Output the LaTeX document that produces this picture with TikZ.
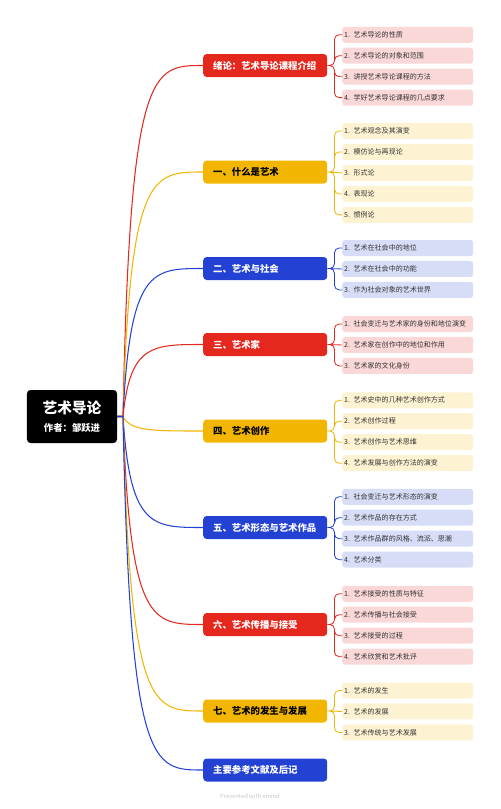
\documentclass[tikz,border=0pt]{standalone}
\usepackage{fontspec}
\setmainfont{Noto Sans CJK SC}
\usetikzlibrary{positioning}
\definecolor{rojo}{HTML}{E5281E}
\definecolor{amarillo}{HTML}{F2B600}
\definecolor{azul}{HTML}{2342D4}
\definecolor{texto}{HTML}{333333}

\begin{document}
\begin{tikzpicture}[x=0.03cm, y=-0.03cm,
    raiz/.style={fill=black, text=white, rounded corners=3pt,
                 minimum width=2.7cm, minimum height=1.59cm, align=center},
    tema/.style={fill=#1, text=white, rounded corners=3pt, anchor=west,
                 text width=3.12cm, inner xsep=0.3cm, inner ysep=0pt,
                 minimum height=0.69cm, align=left,
                 font=\fontsize{8}{9}\selectfont\bfseries},
    subtema/.style={fill=#1!18, text=texto, rounded corners=2.5pt,
                 text width=3.81cm, inner xsep=0.06cm, inner ysep=0pt,
                 minimum height=0.48cm, align=left,
                 font=\fontsize{6}{7}\selectfont},
    rama/.style={draw=#1, line width=0.9pt},
    brazo/.style={draw=#1, line width=0.7pt, rounded corners=4pt}]
  \useasboundingbox (0,0) rectangle (500,809);
  \node[raiz] (raiz) at (72,416.5) {{\fontsize{12.5}{15}\selectfont\bfseries 艺术导论}\\[3pt]
    {\fontsize{8}{10}\selectfont\bfseries 作者：邹跃进}};
  % temas
  \node[tema=rojo] (t1) at (203,65.5) {绪论：艺术导论课程介绍};
  \node[tema=amarillo, text=black] (t2) at (203,172) {一、什么是艺术};
  \node[tema=azul] (t3) at (203,268.5) {二、艺术与社会};
  \node[tema=rojo] (t4) at (203,344.5) {三、艺术家};
  \node[tema=amarillo, text=black] (t5) at (203,431) {四、艺术创作};
  \node[tema=azul] (t6) at (203,527.5) {五、艺术形态与艺术作品};
  \node[tema=rojo] (t7) at (203,624.5) {六、艺术传播与接受};
  \node[tema=amarillo, text=black] (t8) at (203,711) {七、艺术的发生与发展};
  \node[tema=azul] (t9) at (203,770) {主要参考文献及后记};
  % subtemas
  \node[subtema=rojo, anchor=west] (s1a) at (342,34.75) {1. 艺术导论的性质};
  \node[subtema=rojo, below=0.135cm of s1a] (s1b) {2. 艺术导论的对象和范围};
  \node[subtema=rojo, below=0.135cm of s1b] (s1c) {3. 讲授艺术导论课程的方法};
  \node[subtema=rojo, below=0.135cm of s1c] (s1d) {4. 学好艺术导论课程的几点要求};
  \node[subtema=amarillo, anchor=west] (s2a) at (342,131) {1. 艺术观念及其演变};
  \node[subtema=amarillo, below=0.135cm of s2a] (s2b) {2. 模仿论与再现论};
  \node[subtema=amarillo, below=0.135cm of s2b] (s2c) {3. 形式论};
  \node[subtema=amarillo, below=0.135cm of s2c] (s2d) {4. 表现论};
  \node[subtema=amarillo, below=0.135cm of s2d] (s2e) {5. 惯例论};
  \node[subtema=azul, anchor=west] (s3a) at (342,248) {1. 艺术在社会中的地位};
  \node[subtema=azul, below=0.135cm of s3a] (s3b) {2. 艺术在社会中的功能};
  \node[subtema=azul, below=0.135cm of s3b] (s3c) {3. 作为社会对象的艺术世界};
  \node[subtema=rojo, anchor=west] (s4a) at (342,324) {1. 社会变迁与艺术家的身份和地位演变};
  \node[subtema=rojo, below=0.135cm of s4a] (s4b) {2. 艺术家在创作中的地位和作用};
  \node[subtema=rojo, below=0.135cm of s4b] (s4c) {3. 艺术家的文化身份};
  \node[subtema=amarillo, anchor=west] (s5a) at (342,400.25) {1. 艺术史中的几种艺术创作方式};
  \node[subtema=amarillo, below=0.135cm of s5a] (s5b) {2. 艺术创作过程};
  \node[subtema=amarillo, below=0.135cm of s5b] (s5c) {3. 艺术创作与艺术思维};
  \node[subtema=amarillo, below=0.135cm of s5c] (s5d) {4. 艺术发展与创作方法的演变};
  \node[subtema=azul, anchor=west] (s6a) at (342,496.75) {1. 社会变迁与艺术形态的演变};
  \node[subtema=azul, below=0.135cm of s6a] (s6b) {2. 艺术作品的存在方式};
  \node[subtema=azul, below=0.135cm of s6b] (s6c) {3. 艺术作品群的风格、流派、思潮};
  \node[subtema=azul, below=0.135cm of s6c] (s6d) {4. 艺术分类};
  \node[subtema=rojo, anchor=west] (s7a) at (342,593.75) {1. 艺术接受的性质与特征};
  \node[subtema=rojo, below=0.135cm of s7a] (s7b) {2. 艺术传播与社会接受};
  \node[subtema=rojo, below=0.135cm of s7b] (s7c) {3. 艺术接受的过程};
  \node[subtema=rojo, below=0.135cm of s7c] (s7d) {4. 艺术欣赏和艺术批评};
  \node[subtema=amarillo, anchor=west] (s8a) at (342,690.5) {1. 艺术的发生};
  \node[subtema=amarillo, below=0.135cm of s8a] (s8b) {2. 艺术的发展};
  \node[subtema=amarillo, below=0.135cm of s8b] (s8c) {3. 艺术传统与艺术发展};
  \node[text=black!22, font=\fontsize{5}{6}\selectfont] (pie) at (250,796) {Presented with xmind};
  % ramas desde la raiz
  \coordinate (nudo) at (123,416.5);
  \coordinate (ca) at (130,0);
  \coordinate (cb) at (152,0);
  \draw[rama=rojo] (raiz.east) -- (nudo) .. controls (ca |- t1.west) and (cb |- t1.west) .. (t1.west);
  \draw[rama=amarillo] (raiz.east) -- (nudo) .. controls (ca |- t2.west) and (cb |- t2.west) .. (t2.west);
  \draw[rama=azul] (raiz.east) -- (nudo) .. controls (ca |- t3.west) and (cb |- t3.west) .. (t3.west);
  \draw[rama=rojo] (raiz.east) -- (nudo) .. controls (ca |- t4.west) and (cb |- t4.west) .. (t4.west);
  \draw[rama=amarillo] (raiz.east) -- (nudo) .. controls (ca |- t5.west) and (cb |- t5.west) .. (t5.west);
  \draw[rama=azul] (raiz.east) -- (nudo) .. controls (ca |- t6.west) and (cb |- t6.west) .. (t6.west);
  \draw[rama=rojo] (raiz.east) -- (nudo) .. controls (ca |- t7.west) and (cb |- t7.west) .. (t7.west);
  \draw[rama=amarillo] (raiz.east) -- (nudo) .. controls (ca |- t8.west) and (cb |- t8.west) .. (t8.west);
  \draw[rama=azul] (raiz.east) -- (nudo) .. controls (ca |- t9.west) and (cb |- t9.west) .. (t9.west);
  % brazos hacia los subtemas
  \draw[brazo=rojo] (t1.east) -- ++(7,0) |- (s1a.west) (t1.east) -- ++(7,0) |- (s1b.west)
    (t1.east) -- ++(7,0) |- (s1c.west) (t1.east) -- ++(7,0) |- (s1d.west);
  \draw[brazo=amarillo] (t2.east) -- ++(7,0) |- (s2a.west) (t2.east) -- ++(7,0) |- (s2b.west)
    (t2.east) -- (s2c.west) (t2.east) -- ++(7,0) |- (s2d.west) (t2.east) -- ++(7,0) |- (s2e.west);
  \draw[brazo=azul] (t3.east) -- ++(7,0) |- (s3a.west) (t3.east) -- (s3b.west)
    (t3.east) -- ++(7,0) |- (s3c.west);
  \draw[brazo=rojo] (t4.east) -- ++(7,0) |- (s4a.west) (t4.east) -- (s4b.west)
    (t4.east) -- ++(7,0) |- (s4c.west);
  \draw[brazo=amarillo] (t5.east) -- ++(7,0) |- (s5a.west) (t5.east) -- ++(7,0) |- (s5b.west)
    (t5.east) -- ++(7,0) |- (s5c.west) (t5.east) -- ++(7,0) |- (s5d.west);
  \draw[brazo=azul] (t6.east) -- ++(7,0) |- (s6a.west) (t6.east) -- ++(7,0) |- (s6b.west)
    (t6.east) -- ++(7,0) |- (s6c.west) (t6.east) -- ++(7,0) |- (s6d.west);
  \draw[brazo=rojo] (t7.east) -- ++(7,0) |- (s7a.west) (t7.east) -- ++(7,0) |- (s7b.west)
    (t7.east) -- ++(7,0) |- (s7c.west) (t7.east) -- ++(7,0) |- (s7d.west);
  \draw[brazo=amarillo] (t8.east) -- ++(7,0) |- (s8a.west) (t8.east) -- (s8b.west)
    (t8.east) -- ++(7,0) |- (s8c.west);
\end{tikzpicture}
\end{document}
